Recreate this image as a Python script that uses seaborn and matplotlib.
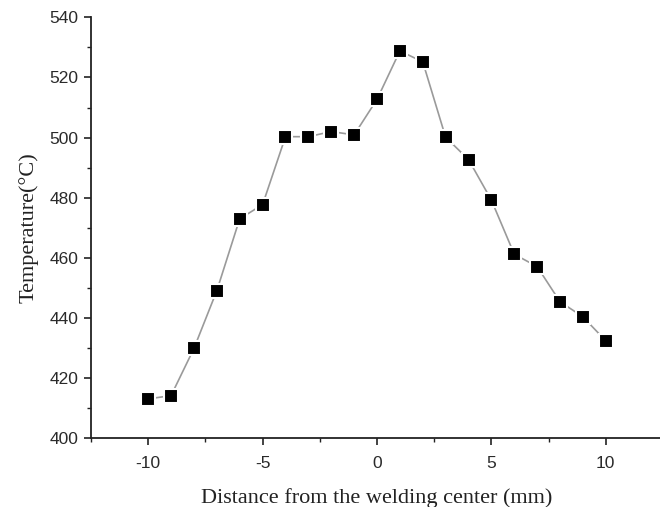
import matplotlib
matplotlib.use("Agg")
import matplotlib.pyplot as plt
import seaborn as sns
import pandas as pd
from matplotlib.ticker import MultipleLocator

distance = [-10, -9, -8, -7, -6, -5, -4, -3, -2, -1, 0, 1, 2, 3, 4, 5, 6, 7, 8, 9, 10]
temperature = [413.1, 414.2, 429.9, 449.1, 473.0, 477.7, 500.3, 500.3, 502.0, 500.9,
               512.7, 528.8, 525.2, 500.1, 492.7, 479.2, 461.2, 457.1, 445.4, 440.4, 432.4]
xticks = [-10, -5, 0, 5, 10]
yticks = [400, 420, 440, 460, 480, 500, 520, 540]

df = pd.DataFrame({"Distance": distance, "Temperature": temperature})

sns.set_style("ticks")
plt.rcParams["axes.unicode_minus"] = False
fig = plt.figure(figsize=(6.6, 5.07), dpi=100)
ax = fig.add_axes([91/660, (507-438.3)/507, (663-91)/660, (438.3-17.3)/507])

sns.lineplot(data=df, x="Distance", y="Temperature", ax=ax, color="#9a9a9a",
             linewidth=1.2, marker="s", markersize=9.5, markerfacecolor="black",
             markeredgecolor="white", markeredgewidth=1.5, clip_on=False)

ax.set_xlim(-12.5, 12.5)
ax.set_ylim(400, 540)
ax.set_xticks(xticks)
ax.set_yticks(yticks)
ax.xaxis.set_minor_locator(MultipleLocator(2.5))
ax.yaxis.set_minor_locator(MultipleLocator(10))
for s in ["top", "right"]:
    ax.spines[s].set_visible(False)
for s in ["left", "bottom"]:
    ax.spines[s].set_linewidth(1.3)
    ax.spines[s].set_color("#222222")
ax.tick_params(which="major", direction="out", length=5, width=1.2, color="#222222",
               labelsize=12.5, labelcolor="#2a2a2a", pad=4)
ax.tick_params(which="minor", direction="out", length=3, width=1.0, color="#222222")
ax.tick_params(axis="x", which="major", pad=8)
for lab in ax.get_xticklabels() + ax.get_yticklabels():
    lab.set_fontfamily("Liberation Sans")

ax.set_xlabel("Distance from the welding center (mm)", fontfamily="Liberation Serif",
              fontsize=16, color="#222222", labelpad=12)
ax.set_ylabel("Temperature(\u00b0C)", fontfamily="Liberation Serif",
              fontsize=16, color="#222222", labelpad=8)

fig.savefig("out.png", dpi=100)
